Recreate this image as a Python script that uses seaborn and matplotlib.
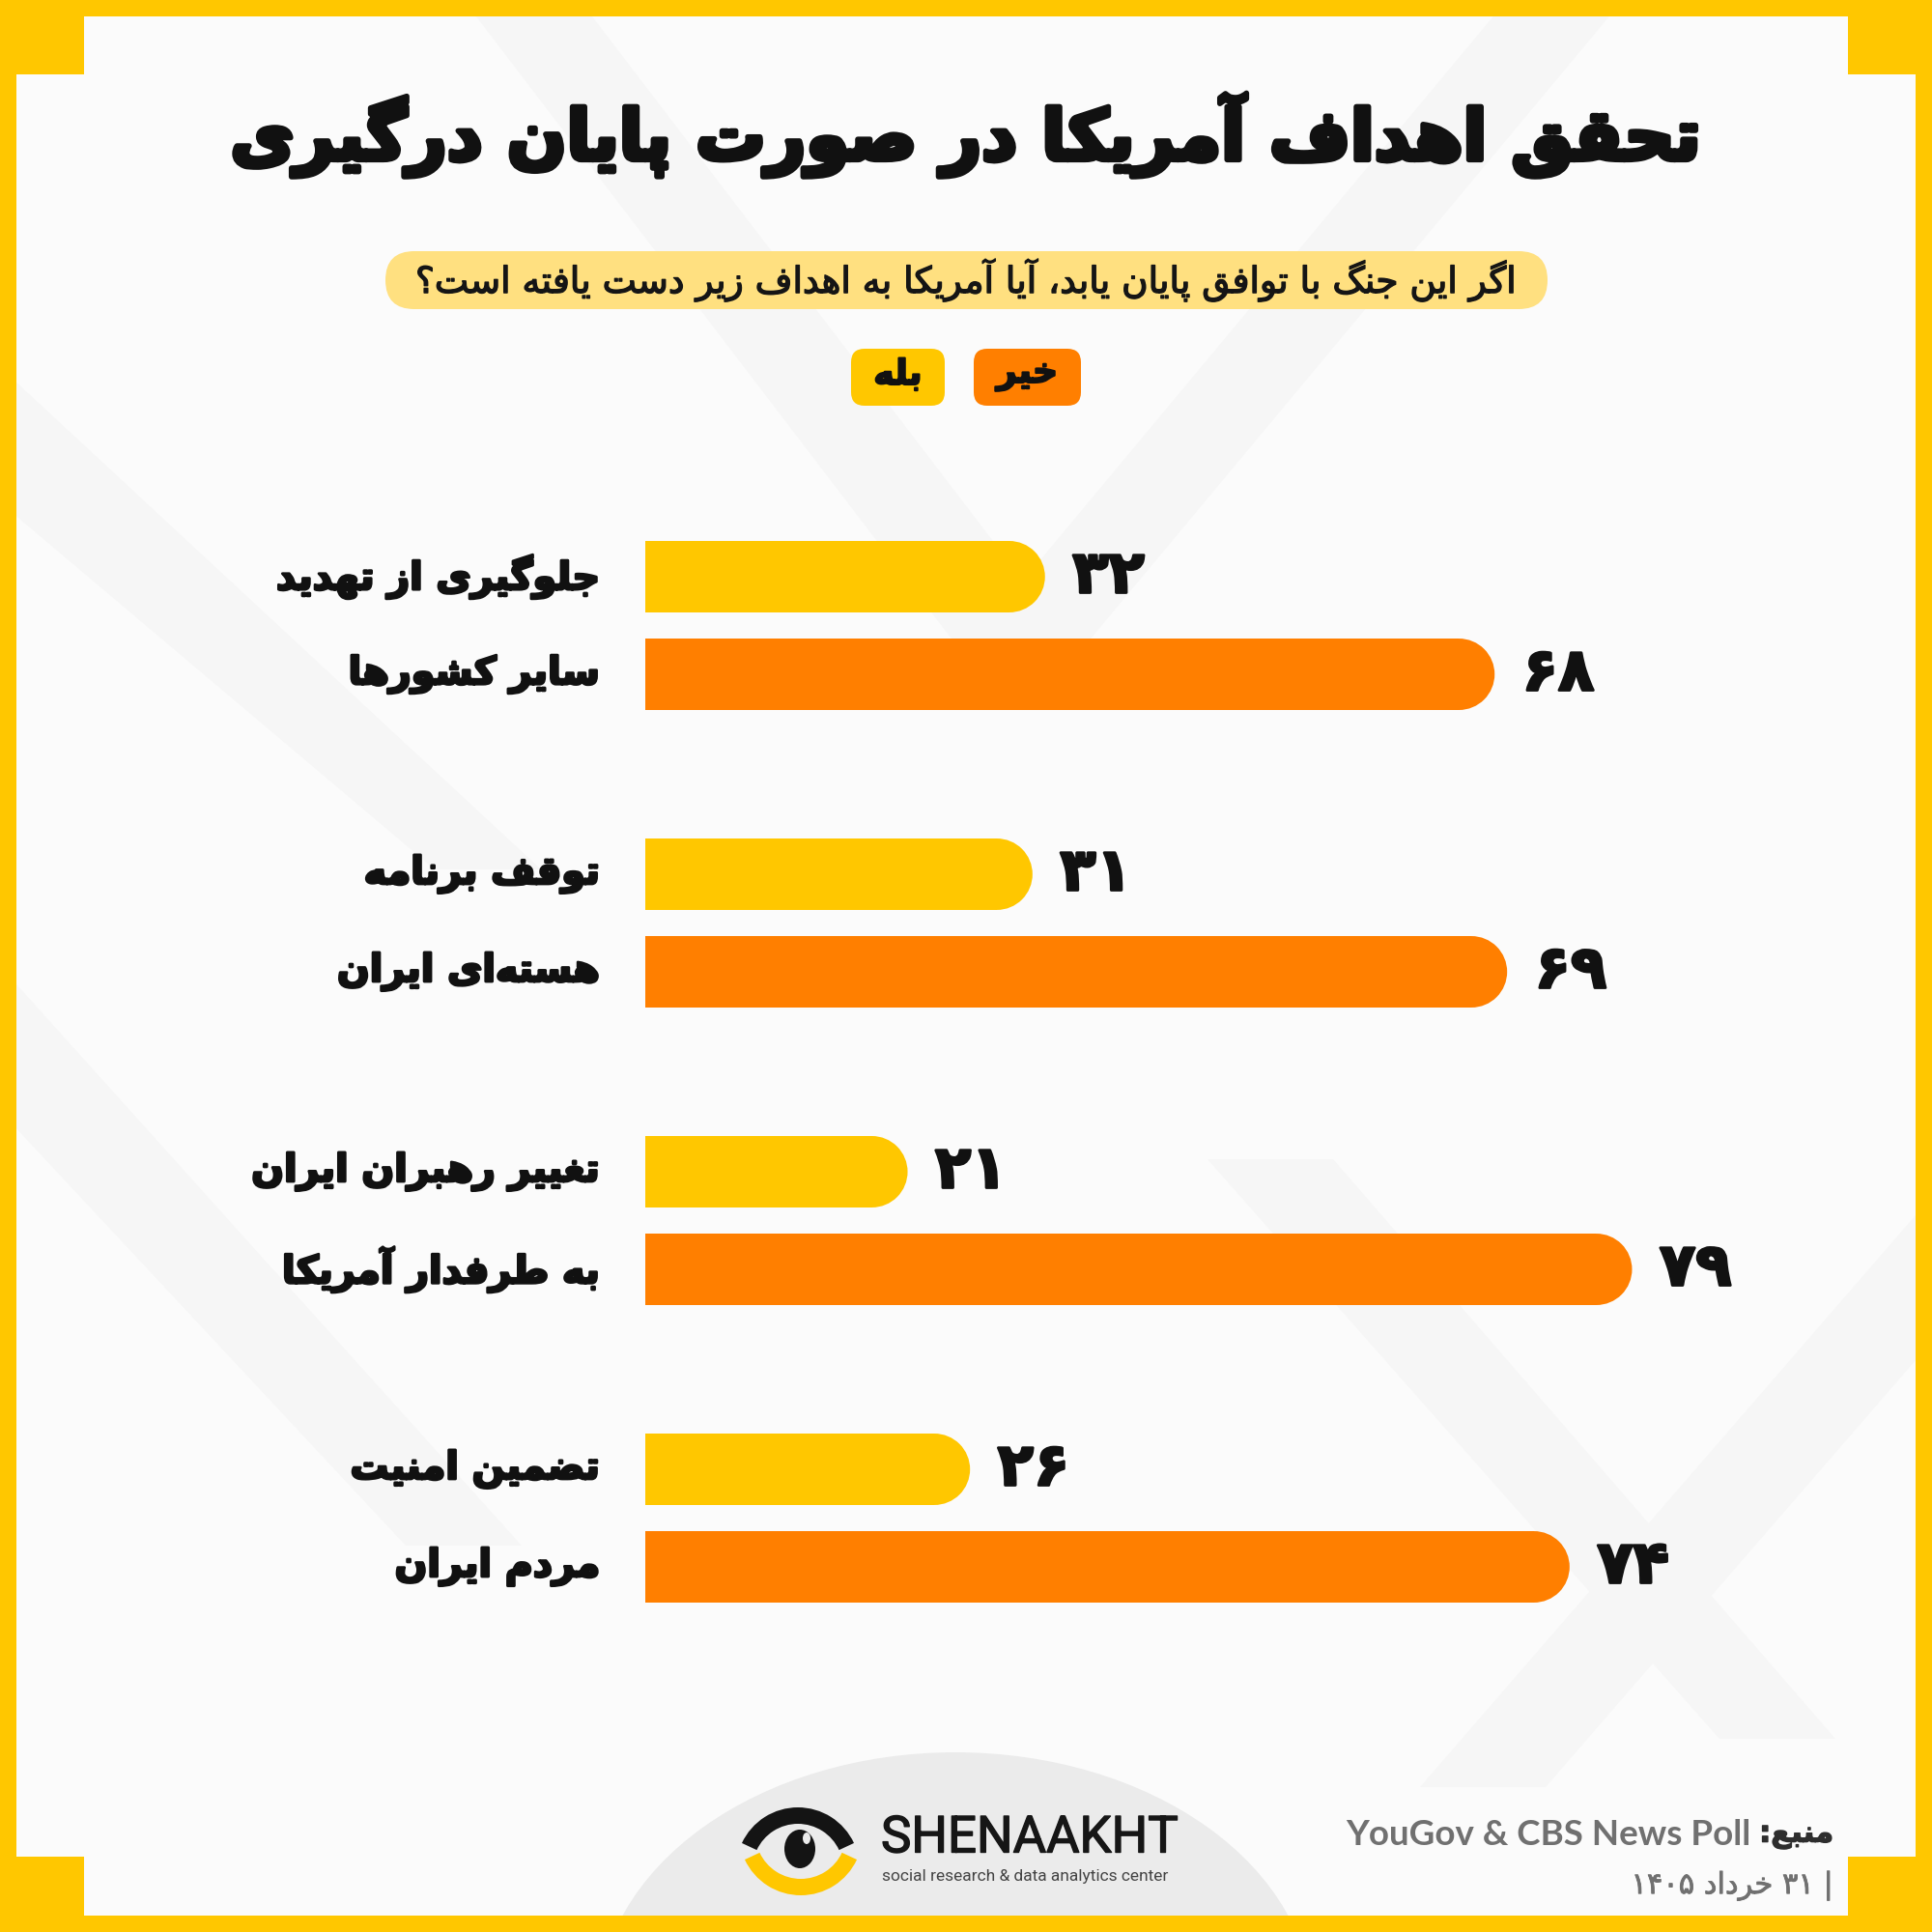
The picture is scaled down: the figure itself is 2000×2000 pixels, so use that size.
import re
import numpy as np
import pandas as pd
import matplotlib
matplotlib.use('Agg')
import matplotlib.pyplot as plt
import matplotlib.patheffects as pe
from matplotlib.patches import Rectangle, FancyBboxPatch, Ellipse, Wedge, Polygon
import seaborn as sns

# ---------------- data ----------------
goal_line1 = ['جلوگیری از تهدید', 'توقف برنامه', 'تغییر رهبران ایران', 'تضمین امنیت']
goal_line2 = ['سایر کشورها', 'هسته\u200cای ایران', 'به طرفدار آمریکا', 'مردم ایران']
yes_pct = [32, 31, 21, 26]
no_pct = [68, 69, 79, 74]
answers = ['بله', 'خیر']

TITLE = 'تحقق اهداف آمریکا در صورت پایان درگیری'
QUESTION = 'اگر این جنگ با توافق پایان یابد، آیا آمریکا به اهداف زیر دست یافته است؟'
SOURCE_LABEL = 'منبع:'
SOURCE = 'YouGov & CBS News Poll'
DATE = '| ۳۱ خرداد ۱۴۰۵'

YELLOW = '#FFC700'
ORANGE = '#FF7F00'
palette = {answers[0]: YELLOW, answers[1]: ORANGE}

# ---------------- persian shaping (no reshaper lib available) ----------------
FORMS = {
    'ا': 'FE8D FE8E', 'آ': 'FE81 FE82', 'ب': 'FE8F FE90 FE91 FE92', 'پ': 'FB56 FB57 FB58 FB59',
    'ت': 'FE95 FE96 FE97 FE98', 'ث': 'FE99 FE9A FE9B FE9C', 'ج': 'FE9D FE9E FE9F FEA0',
    'چ': 'FB7A FB7B FB7C FB7D', 'ح': 'FEA1 FEA2 FEA3 FEA4', 'خ': 'FEA5 FEA6 FEA7 FEA8',
    'د': 'FEA9 FEAA', 'ذ': 'FEAB FEAC', 'ر': 'FEAD FEAE', 'ز': 'FEAF FEB0', 'ژ': 'FB8A FB8B',
    'س': 'FEB1 FEB2 FEB3 FEB4', 'ش': 'FEB5 FEB6 FEB7 FEB8', 'ص': 'FEB9 FEBA FEBB FEBC',
    'ض': 'FEBD FEBE FEBF FEC0', 'ط': 'FEC1 FEC2 FEC3 FEC4', 'ظ': 'FEC5 FEC6 FEC7 FEC8',
    'ع': 'FEC9 FECA FECB FECC', 'غ': 'FECD FECE FECF FED0', 'ف': 'FED1 FED2 FED3 FED4',
    'ق': 'FED5 FED6 FED7 FED8', 'ک': 'FB8E FB8F FB90 FB91', 'گ': 'FB92 FB93 FB94 FB95',
    'ل': 'FEDD FEDE FEDF FEE0', 'م': 'FEE1 FEE2 FEE3 FEE4', 'ن': 'FEE5 FEE6 FEE7 FEE8',
    'ه': 'FEE9 FEEA FEEB FEEC', 'و': 'FEED FEEE', 'ی': 'FBFC FBFD FBFE FBFF',
}
FORMS = {k: [chr(int(c, 16)) for c in v.split()] for k, v in FORMS.items()}
FA_DIGITS = str.maketrans('0123456789', '۰۱۲۳۴۵۶۷۸۹')


def shape(text):
    text = text.replace('\u064A', 'ی').replace('\u0643', 'ک')
    out = []
    for i, ch in enumerate(text):
        f = FORMS.get(ch)
        if f is None:
            if ch != '\u200c':
                out.append(ch)
            continue
        prev = FORMS.get(text[i - 1]) if i > 0 else None
        nxt = FORMS.get(text[i + 1]) if i + 1 < len(text) else None
        jp = prev is not None and len(prev) == 4
        jn = len(f) == 4 and nxt is not None
        if jp and jn:
            out.append(f[3])
        elif jp:
            out.append(f[1])
        elif jn:
            out.append(f[2])
        else:
            out.append(f[0])
    return ''.join(out)


def fa(text):
    # visual order: reverse, but keep digit runs left-to-right
    runs = re.findall(r'[0-9\u06F0-\u06F9]+|.', shape(text))
    return ''.join(reversed(runs))


def heavy(w, c='#111111'):
    return [pe.withStroke(linewidth=w, foreground=c)]


# ---------------- figure ----------------
sns.set_theme(style='white')
plt.rcParams['font.family'] = ['DejaVu Sans']

fig = plt.figure(figsize=(20, 20), dpi=100)
bg = fig.add_axes([0, 0, 1, 1], zorder=0)
bg.set_xlim(0, 2000)
bg.set_ylim(2000, 0)
bg.axis('off')

# background + faint diagonal bands
bg.add_patch(Rectangle((0, 0), 2000, 2000, color='#FBFBFB', zorder=0))
bands = [
    [(480, 0), (600, 0), (1150, 720), (1030, 720)],
    [(1560, 0), (1680, 0), (1080, 720), (960, 720)],
    [(0, 1000), (0, 1150), (420, 1600), (540, 1600)],
    [(1250, 1200), (1380, 1200), (1900, 1800), (1780, 1800)],
    [(1990, 1250), (1990, 1400), (1600, 1850), (1470, 1850)],
    [(0, 380), (0, 520), (450, 900), (560, 900)],
]
for b in bands:
    bg.add_patch(Polygon(b, closed=True, color='#F6F6F6', lw=0, zorder=0.5))

# footer half-ellipse
bg.add_patch(Ellipse((989, 2080), 740, 532, color='#EBEBEB', lw=0, zorder=1))

# yellow frame with corner blocks
for r in [(0, 0, 2000, 17), (0, 1983, 2000, 17), (0, 0, 17, 2000), (1983, 0, 17, 2000),
          (0, 0, 87, 77), (1913, 0, 87, 77), (0, 1922, 87, 78), (1913, 1922, 87, 78)]:
    bg.add_patch(Rectangle(r[:2], r[2], r[3], color=YELLOW, lw=0, zorder=5))

# title
bg.text(1000, 140, fa(TITLE), ha='center', va='center', fontsize=52, fontweight='bold',
        color='#111111', path_effects=heavy(4), zorder=3)

# question pill
bg.add_patch(FancyBboxPatch((399, 260), 1203, 60, boxstyle='round,pad=0,rounding_size=30',
                            color='#FFE080', lw=0, zorder=2))
bg.text(1000, 290, fa(QUESTION), ha='center', va='center', fontsize=27, color='#151515',
        path_effects=heavy(1.0, '#151515'), zorder=3)

# legend pills
for (x0, w), lab in zip([(881, 97), (1008, 111)], answers):
    bg.add_patch(FancyBboxPatch((x0, 361), w, 59, boxstyle='round,pad=0,rounding_size=14',
                                color=palette[lab], lw=0, zorder=2))
    bg.text(x0 + w / 2, 388, fa(lab), ha='center', va='center', fontsize=26, fontweight='bold',
            color='#111111', path_effects=heavy(1.5), zorder=3)

# ---------------- bars ----------------
rows = []
for g, y, n in zip(goal_line1, yes_pct, no_pct):
    rows += [(g, answers[0], y), (g, answers[1], n)]
df = pd.DataFrame(rows, columns=['goal', 'answer', 'pct'])

ax = fig.add_axes([668 / 2000, 1 - 1725.5 / 2000, 1293 / 2000, 1232 / 2000], zorder=2)
sns.barplot(data=df, y='goal', x='pct', hue='answer', hue_order=answers, palette=palette,
            orient='h', width=0.656, gap=0.268, errorbar=None, saturation=1, legend=False,
            linewidth=0, ax=ax)
ax.set_xlim(0, 100)
ax.set_ylim(3.5, -0.5)
ax.axis('off')
ax.patch.set_alpha(0)

# rounded right ends
px_x = ax.transData.transform((1, 0))[0] - ax.transData.transform((0, 0))[0]
px_y = abs(ax.transData.transform((0, 1))[1] - ax.transData.transform((0, 0))[1])

for cont, lines in zip(ax.containers, [goal_line1, goal_line2]):
    for p, line in zip(cont.patches, lines):
        x0, w, y0, h = p.get_x(), p.get_width(), p.get_y(), p.get_height()
        yc = y0 + h / 2
        r = abs(h) * px_y / 2 / px_x
        p.set_linewidth(0)
        p.set_width(w - r)
        ax.add_patch(Ellipse((x0 + w - r, yc), 2 * r, abs(h), facecolor=p.get_facecolor(), lw=0))
        ax.text(w + 2.2, yc, str(int(round(w))).translate(FA_DIGITS), ha='left', va='center',
                fontsize=44, fontweight='bold', color='#111111', path_effects=heavy(2))
        ax.text(-3.6, yc, fa(line), ha='right', va='center', fontsize=28.5, fontweight='bold',
                color='#111111', clip_on=False, path_effects=heavy(2))

# ---------------- footer ----------------
# logo eye
bg.add_patch(Wedge((826, 1935), 64, 205, 335, width=17, color='#141414', lw=0, zorder=3))
bg.add_patch(Wedge((829, 1898), 64, 25, 155, width=17, color=YELLOW, lw=0, zorder=3))
bg.add_patch(Ellipse((828, 1914), 32, 40, color='#141414', lw=0, zorder=4))
bg.add_patch(Ellipse((835, 1903), 8, 12, color='#EBEBEB', lw=0, zorder=4))
bg.text(912, 1903, 'SHENAAKHT', ha='left', va='center', fontsize=38, color='#161616',
        family='Roboto', path_effects=heavy(1, '#161616'), zorder=3)
bg.text(913, 1942, 'social research & data analytics center', ha='left', va='center',
        fontsize=12.5, color='#444444', family='Roboto', zorder=3)

# source + date
bg.text(1898, 1900, fa(SOURCE_LABEL), ha='right', va='center', fontsize=22, fontweight='bold',
        color='#2E2E2E', path_effects=heavy(1, '#2E2E2E'), zorder=3)
bg.text(1812, 1900, SOURCE, ha='right', va='center', fontsize=26.5, fontweight='bold',
        color='#707070', family='Lato', zorder=3)
bg.text(1898, 1952, fa(DATE), ha='right', va='center', fontsize=22, color='#707070',
        path_effects=heavy(0.6, '#707070'), zorder=3)

fig.savefig('out.png', dpi=100)
